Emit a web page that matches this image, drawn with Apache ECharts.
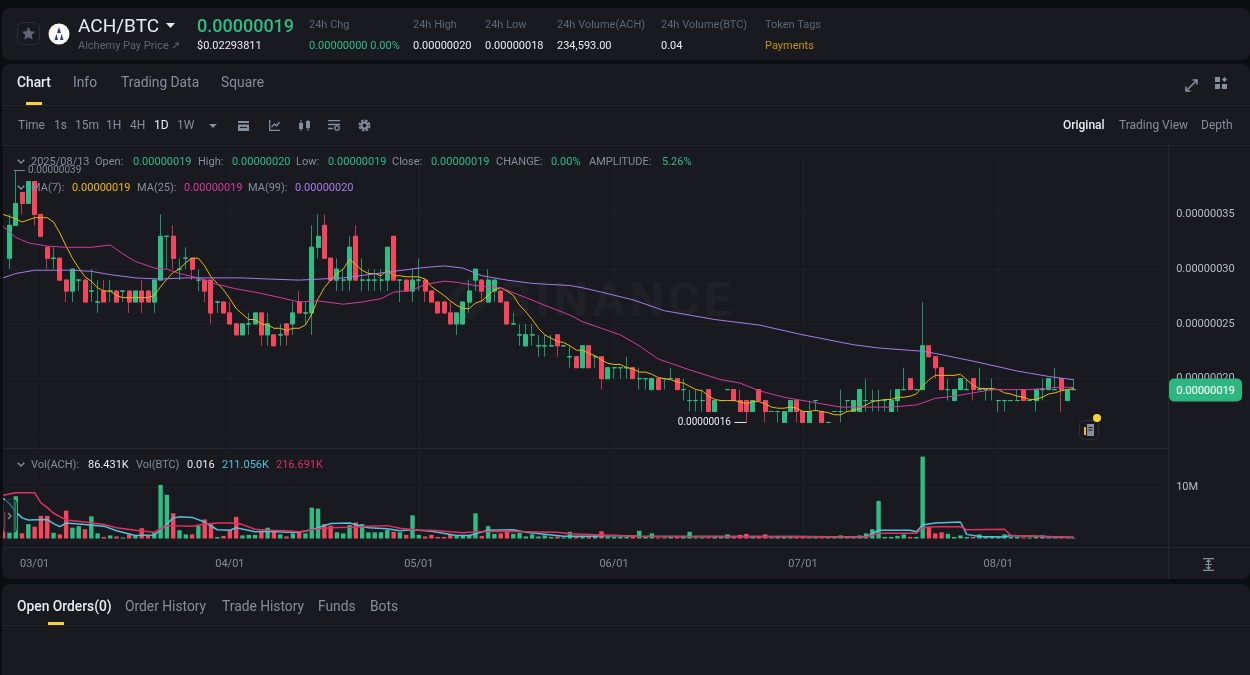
<!DOCTYPE html>
<html>
<head>
<meta charset="utf-8">
<script src="https://cdn.jsdelivr.net/npm/echarts@6/dist/echarts.min.js"></script>
<style>
html,body{margin:0;padding:0;background:#0b0e11;width:1250px;height:675px;overflow:hidden;font-family:Roboto,sans-serif}
.panel{position:absolute;background:#181a20;border-radius:8px}
.line{position:absolute;background:#24272e}
.t{position:absolute;white-space:nowrap;transform:translateY(-50%);font-size:11px;color:#848e9c;z-index:3}
.w{color:#eaecef}.g{color:#2ebd85}.d{color:#5e6673}
.tab{font-size:13.8px}.bar{font-size:12px}
#chart{position:absolute;left:0;top:0;width:1250px;height:675px;z-index:2}
svg{position:absolute;z-index:3}
</style>
</head>
<body>
<div class="panel" style="left:2px;top:8px;width:1248px;height:52px"></div>
<div class="panel" style="left:2px;top:64px;width:1248px;height:515px"></div>
<div class="panel" style="left:2px;top:584px;width:1248px;height:100px"></div>
<div class="line" style="left:2px;top:105px;width:1248px;height:1px"></div>
<div class="line" style="left:2px;top:145px;width:1248px;height:1px"></div>
<div class="line" style="left:2px;top:448px;width:1166px;height:1px"></div>
<div class="line" style="left:2px;top:547px;width:1248px;height:1px"></div>
<div class="line" style="left:1168px;top:146px;width:1px;height:433px"></div>
<div class="line" style="left:2px;top:625px;width:1248px;height:1px"></div>

<!-- watermark -->
<svg style="left:440px;top:270px;z-index:1" width="300" height="56">
  <g fill="none" stroke="#1f2127" stroke-width="7">
    <path d="M12 28 L30 10 L48 28 L30 46 Z"/>
  </g>
  <text x="60" y="46" font-family="Roboto" font-weight="700" font-size="49" letter-spacing="4" fill="#1f2127">BINANCE</text>
</svg>

<!-- header -->
<svg style="left:17px;top:22px" width="23" height="23"><rect x=".5" y=".5" width="22" height="22" rx="5" fill="none" stroke="#2b3139"/><path d="M11.5 5l2 4.2 4.5.6-3.3 3.1.9 4.6-4.1-2.3-4.1 2.3.9-4.6-3.3-3.1 4.5-.6z" fill="#5e6673"/></svg>
<svg style="left:48px;top:23px" width="22" height="22"><circle cx="11" cy="11" r="10.5" fill="#fff"/><path d="M11 4l2 6h-4zM8.5 11l-2 6h3.5zM13.5 11l2 6h-3.5z" fill="#2a3a8c"/></svg>
<span class="t w" style="left:78px;top:25px;font-size:19px">ACH/BTC</span>
<svg style="left:166px;top:23px" width="9" height="5"><path d="M0 0h9L4.5 5z" fill="#eaecef"/></svg>
<span class="t g" style="left:197px;top:25px;font-size:18px;font-weight:500">0.00000019</span>
<span class="t d" style="left:78px;top:45px">Alchemy Pay Price ↗</span>
<span class="t w" style="left:197px;top:45px">$0.02293811</span>
<span class="t d" style="left:309px;top:24px">24h Chg</span>
<span class="t g" style="left:309px;top:45px">0.00000000 0.00%</span>
<span class="t d" style="left:413px;top:24px">24h High</span>
<span class="t w" style="left:413px;top:45px">0.00000020</span>
<span class="t d" style="left:485px;top:24px">24h Low</span>
<span class="t w" style="left:485px;top:45px">0.00000018</span>
<span class="t d" style="left:557px;top:24px">24h Volume(ACH)</span>
<span class="t w" style="left:557px;top:45px">234,593.00</span>
<span class="t d" style="left:661px;top:24px">24h Volume(BTC)</span>
<span class="t w" style="left:661px;top:45px">0.04</span>
<span class="t d" style="left:765px;top:24px">Token Tags</span>
<span class="t" style="left:765px;top:45px;color:#c99400">Payments</span>

<!-- tabs -->
<span class="t w tab" style="left:17px;top:82px;font-weight:500">Chart</span>
<span class="t tab" style="left:73px;top:82px">Info</span>
<span class="t tab" style="left:121px;top:82px">Trading Data</span>
<span class="t tab" style="left:221px;top:82px">Square</span>
<div style="position:absolute;left:26px;top:102px;width:16px;height:3px;background:#fcd535;z-index:3"></div>
<svg style="left:1185px;top:79px" width="13" height="13"><path d="M1 12L12 1M7.5 1H12V5.5M1 7.5V12H5.5" fill="none" stroke="#848e9c" stroke-width="1.6"/></svg>
<svg style="left:1215px;top:77px" width="13" height="13"><path d="M0 0h5v5H0zM0 7h5v5H0zM7 7h5v5H7zM9.5 0l2.5 2.5-2.5 2.5L7 2.5z" fill="#848e9c"/></svg>

<!-- toolbar -->
<span class="t bar" style="left:18px;top:125px">Time</span>
<span class="t bar" style="left:54px;top:125px">1s</span>
<span class="t bar" style="left:75px;top:125px">15m</span>
<span class="t bar" style="left:106px;top:125px">1H</span>
<span class="t bar" style="left:130px;top:125px">4H</span>
<span class="t bar w" style="left:154px;top:125px">1D</span>
<span class="t bar" style="left:177px;top:125px">1W</span>
<svg style="left:209px;top:124px" width="8" height="4"><path d="M0 0h8L4 4z" fill="#848e9c"/></svg>
<svg style="left:238px;top:120px" width="11" height="11"><path d="M0 1h11v2H0zM0 4.5h11V11H0z" fill="#848e9c"/><path d="M2 7h7v1H2z" fill="#181a20"/></svg>
<svg style="left:269px;top:120px" width="11" height="11"><path d="M.7 0v10.3H11M2.5 7l3-3 2 2 3-4" fill="none" stroke="#848e9c" stroke-width="1.3"/></svg>
<svg style="left:298px;top:120px" width="13" height="11"><path d="M1 3h4v6H1zM8 1h4v7H8z" fill="#848e9c"/><path d="M3 0v11M10 0v11" stroke="#848e9c"/></svg>
<svg style="left:328px;top:120px" width="13" height="11"><path d="M0 .7h12M0 4.5h12M0 8.5h5" stroke="#848e9c" stroke-width="1.3"/><circle cx="9" cy="8" r="2.2" fill="none" stroke="#848e9c" stroke-width="1.3"/></svg>
<svg style="left:358px;top:119px" width="13" height="13"><circle cx="6.5" cy="6.5" r="5" fill="none" stroke="#848e9c" stroke-width="2" stroke-dasharray="2.6 1.3"/><circle cx="6.5" cy="6.5" r="3" fill="none" stroke="#848e9c" stroke-width="2"/></svg>
<span class="t bar w" style="left:1063px;top:125px;font-weight:500">Original</span>
<span class="t bar" style="left:1119px;top:125px">Trading View</span>
<span class="t bar" style="left:1201px;top:125px">Depth</span>

<!-- legends -->
<svg style="left:17px;top:159px" width="8" height="5"><path d="M.7.7L4 4l3.3-3.3" fill="none" stroke="#848e9c" stroke-width="1.4"/></svg>
<span class="t" style="left:31px;top:161px">2025/08/13</span>
<span class="t" style="left:95px;top:161px">Open:</span><span class="t g" style="left:133px;top:161px">0.00000019</span>
<span class="t" style="left:198px;top:161px">High:</span><span class="t g" style="left:232px;top:161px">0.00000020</span>
<span class="t" style="left:296px;top:161px">Low:</span><span class="t g" style="left:328px;top:161px">0.00000019</span>
<span class="t" style="left:392px;top:161px">Close:</span><span class="t g" style="left:431px;top:161px">0.00000019</span>
<span class="t" style="left:496px;top:161px">CHANGE:</span><span class="t g" style="left:551px;top:161px">0.00%</span>
<span class="t" style="left:589px;top:161px">AMPLITUDE:</span><span class="t g" style="left:662px;top:161px">5.26%</span>
<svg style="left:17px;top:185px" width="8" height="5"><path d="M.7.7L4 4l3.3-3.3" fill="none" stroke="#848e9c" stroke-width="1.4"/></svg>
<span class="t" style="left:31px;top:187px">MA(7):</span><span class="t" style="left:72px;top:187px;color:#f0b90b">0.00000019</span>
<span class="t" style="left:137px;top:187px">MA(25):</span><span class="t" style="left:184px;top:187px;color:#d63ba0">0.00000019</span>
<span class="t" style="left:248px;top:187px">MA(99):</span><span class="t" style="left:295px;top:187px;color:#a97bea">0.00000020</span>
<svg style="left:17px;top:462px" width="8" height="5"><path d="M.7.7L4 4l3.3-3.3" fill="none" stroke="#848e9c" stroke-width="1.4"/></svg>
<span class="t" style="left:31px;top:464px">Vol(ACH):</span><span class="t w" style="left:88px;top:464px">86.431K</span>
<span class="t" style="left:136px;top:464px">Vol(BTC)</span><span class="t w" style="left:187px;top:464px">0.016</span>
<span class="t" style="left:222px;top:464px;color:#4fc3dc">211.056K</span>
<span class="t" style="left:276px;top:464px;color:#d8325e">216.691K</span>

<!-- last price tag and note button -->
<div class="t" style="left:1169px;top:390px;width:73px;height:23px;line-height:23px;background:#2db680;border-radius:5px;color:#fff;text-align:center">0.00000019</div>
<svg style="left:1075px;top:412px" width="28" height="28"><rect x="4.5" y="8.5" width="19" height="19" rx="5" fill="#181a20" stroke="#2b3139"/><rect x="12" y="12" width="7" height="12" fill="#848e9c"/><path d="M9 15h2v8H9z" fill="#f0b90b"/><path d="M13.5 15.5h4M13.5 18h4" stroke="#181a20"/><circle cx="22" cy="6" r="4" fill="#fcd535"/></svg>
<svg style="left:2px;top:499px" width="16" height="35"><rect x="1.5" y=".5" width="13" height="33" rx="4" fill="#181a20" fill-opacity=".5" stroke="#2b3139"/><path d="M6 14l3 3-3 3" fill="none" stroke="#848e9c" stroke-width="1.3"/></svg>
<svg style="left:1202px;top:558px" width="13" height="13"><path d="M1 .7h11M1 12.3h11M3 6.5h7M6.5 2v9M4.5 4l2-2 2 2M4.5 9l2 2 2-2" fill="none" stroke="#848e9c" stroke-width="1.2"/></svg>

<!-- bottom tabs -->
<span class="t w tab" style="left:17px;top:606px;font-weight:500">Open Orders(0)</span>
<span class="t tab" style="left:125px;top:606px">Order History</span>
<span class="t tab" style="left:222px;top:606px">Trade History</span>
<span class="t tab" style="left:318px;top:606px">Funds</span>
<span class="t tab" style="left:370px;top:606px">Bots</span>
<div style="position:absolute;left:48px;top:622px;width:16px;height:3px;background:#fcd535;z-index:3"></div>

<div id="chart"></div>
<div style="position:absolute;left:0;top:146px;width:3px;height:402px;background:#0b0e11;z-index:3"></div>

<script>
// daily candles, prices in units of 0.00000001; one slot before 02/25 is cut by the panel edge
var days = ['02/24','02/25','02/26','02/27','02/28',
'03/01','03/02','03/03','03/04','03/05','03/06','03/07','03/08','03/09','03/10','03/11','03/12','03/13','03/14','03/15','03/16','03/17','03/18','03/19','03/20','03/21','03/22','03/23','03/24','03/25','03/26','03/27','03/28','03/29','03/30','03/31',
'04/01','04/02','04/03','04/04','04/05','04/06','04/07','04/08','04/09','04/10','04/11','04/12','04/13','04/14','04/15','04/16','04/17','04/18','04/19','04/20','04/21','04/22','04/23','04/24','04/25','04/26','04/27','04/28','04/29','04/30',
'05/01','05/02','05/03','05/04','05/05','05/06','05/07','05/08','05/09','05/10','05/11','05/12','05/13','05/14','05/15','05/16','05/17','05/18','05/19','05/20','05/21','05/22','05/23','05/24','05/25','05/26','05/27','05/28','05/29','05/30','05/31',
'06/01','06/02','06/03','06/04','06/05','06/06','06/07','06/08','06/09','06/10','06/11','06/12','06/13','06/14','06/15','06/16','06/17','06/18','06/19','06/20','06/21','06/22','06/23','06/24','06/25','06/26','06/27','06/28','06/29','06/30',
'07/01','07/02','07/03','07/04','07/05','07/06','07/07','07/08','07/09','07/10','07/11','07/12','07/13','07/14','07/15','07/16','07/17','07/18','07/19','07/20','07/21','07/22','07/23','07/24','07/25','07/26','07/27','07/28','07/29','07/30','07/31',
'08/01','08/02','08/03','08/04','08/05','08/06','08/07','08/08','08/09','08/10','08/11','08/12','08/13','08/14','08/15','08/16','08/17','08/18','08/19','08/20','08/21','08/22','08/23','08/24','08/25','08/26','08/27'];

var opens = [null,
31,34,37,36,38,35,32,31,31,29,28,29,29,28,27,28,28,28,28,28,
27,28,28,27,29,33,33,30,31,31,29,29,29,27,27,26,25,24,25,25,
26,24,24,24,25,25,27,26,26,32,34,31,29,29,29,33,29,29,29,29,
29,33,29,29,28,29,29,28,27,27,26,25,25,27,29,29,27,28,28,27,
25,24,23,24,23,23,23,24,23,22,22,21,23,22,22,20,21,21,21,21,
20,20,19,20,20,20,20,19,18,18,18,19,17,18,19,19,18,18,17,19,
18,17,17,16,17,18,17,16,18,17,16,17,17,18,17,17,18,18,18,18,
17,18,19,20,19,19,23,22,21,19,18,19,19,20,19,19,19,18,18,18,
18,19,18,18,19,19,19,20,18,19];
var closes = [null,
34,36,36,38,35,33,31,31,29,28,30,29,27,28,27,27,28,27,28,27,
28,27,27,29,33,33,31,30,31,30,29,28,26,27,26,25,24,25,25,26,
24,25,23,24,24,26,26,26,32,33,31,29,30,29,32,29,29,29,29,29,
32,29,29,28,29,29,28,27,26,26,25,26,27,28,30,28,29,29,27,25,
25,24,24,24,23,23,23,23,23,22,21,23,21,22,20,21,21,21,21,20,
20,20,20,19,20,20,19,19,18,18,18,17,18,18,19,18,17,17,18,18,
17,17,17,17,18,17,16,17,18,16,16,17,17,18,18,19,18,18,18,18,
18,19,19,19,19,23,22,21,19,19,19,20,19,19,19,19,19,18,18,18,
18,18,18,19,19,20,19,19,19,19];
var lows = [null,
30,34,35,36,34,33,30,30,29,27,27,28,27,27,26,27,27,27,27,26,
27,26,27,26,29,30,30,29,30,29,28,27,25,26,26,25,24,24,24,25,
23,23,23,23,23,24,26,25,24,31,31,29,28,28,28,29,28,28,28,28,
28,29,27,28,27,28,27,27,26,26,25,24,25,26,28,27,27,27,27,25,
25,23,23,23,22,22,23,22,23,21,21,21,21,21,19,20,20,20,20,20,
19,19,19,19,19,20,19,18,17,17,17,17,17,18,19,18,17,16,17,18,
16,17,16,16,17,16,16,16,17,16,16,17,16,17,17,17,17,17,17,17,
17,17,19,19,19,19,22,20,19,18,18,19,19,18,19,18,18,17,17,18,
18,18,18,17,18,19,19,17,18,19];
var highs = [null,
35,39,37,38,38,35,32,32,31,29,30,29,29,30,29,29,29,28,28,28,
28,29,28,29,35,33,34,31,32,31,30,29,29,27,27,27,25,25,26,26,
26,26,24,25,25,27,28,27,34,35,35,31,31,30,33,34,31,30,30,30,
32,33,29,29,30,31,29,28,27,27,27,26,27,29,30,29,30,29,28,27,
26,25,25,25,24,24,24,24,23,23,22,23,23,22,22,21,21,21,22,21,
21,20,20,20,20,21,20,20,19,19,19,19,18,18,19,19,19,18,18,19,
18,17,17,17,18,18,17,18,18,17,16,17,19,18,18,19,20,19,19,18,
19,19,21,20,19,27,23,22,21,20,19,20,20,20,21,19,20,18,18,18,
19,19,18,19,20,20,21,20,19,20];

var ma7 = [35.0,
34.8,34.6,34.3,34.5,34.7,34.7,34.7,34.3,33.3,32.1,31.0,30.1,29.3,28.9,28.3,28.0,28.0,27.6,27.4,27.4,
27.4,27.4,27.4,27.6,28.4,29.1,29.7,30.0,30.6,31.0,31.0,30.3,29.3,28.7,28.1,27.3,26.4,25.9,25.4,25.4,
25.0,24.9,24.6,24.6,24.4,24.6,24.6,24.9,25.9,27.3,28.3,29.0,29.6,30.0,30.9,30.4,29.9,29.6,29.6,29.4,
29.9,29.4,29.4,29.3,29.3,29.3,29.1,28.4,28.0,27.6,27.1,26.7,26.4,26.4,26.9,27.1,27.6,28.1,28.3,28.0,
27.6,26.7,26.1,25.4,24.6,24.0,23.7,23.4,23.3,23.0,22.6,22.6,22.3,22.1,21.7,21.4,21.3,21.3,21.0,20.9,
20.6,20.6,20.4,20.1,20.0,19.9,19.7,19.6,19.3,19.0,18.9,18.4,18.1,18.0,18.0,18.0,17.9,17.7,17.9,17.9,
17.7,17.4,17.3,17.3,17.4,17.3,17.0,17.0,17.1,17.0,16.9,16.7,16.7,17.0,17.1,17.3,17.6,17.9,18.0,18.1,
18.1,18.3,18.3,18.4,18.6,19.3,19.9,20.3,20.3,20.3,20.3,20.4,19.9,19.4,19.1,19.1,19.1,19.0,18.7,18.6,
18.4,18.3,18.1,18.1,18.3,18.6,18.7,18.9,19.0,19.1];

// the slower lines are read at these candle numbers (0 is 02/25)
var ma25At = [-1,1,3,6,9,13,16,18,20,23,25,27,30,33,36,39,43,46,49,53,56,59,61,64,66,69,71,74,78,82,85,89,91,94,97,100,103,108,113,116,119,123,127,132,136,140,144,147,150,153,156,162,166,169];
var ma25 = [33.9,32.9,32.4,32.1,32.0,32.0,32.2,31.4,30.7,30.1,30.0,29.6,29.2,28.6,28.2,27.9,27.4,27.0,27.1,26.8,27.0,27.3,27.9,28.1,28.6,28.9,28.8,28.5,28.3,27.4,26.7,25.8,25.2,24.6,24.0,23.0,21.8,20.8,19.9,19.6,18.9,18.3,17.9,17.4,17.4,17.4,17.6,18.2,18.4,18.7,19.0,19.0,19.2,19.2];
var ma99At = [-1,1,4,7,10,13,16,20,24,28,33,37,41,46,53,57,61,65,69,72,75,79,83,89,91,94,99,104,112,119,126,134,138,145,147,153,160,165,169];
var ma99 = [29.2,29.6,29.9,29.9,29.9,29.8,29.5,29.2,29.1,29.2,29.2,29.2,29.1,29.0,29.2,29.5,29.8,30.1,30.3,30.1,29.4,29.0,28.7,28.5,28.3,27.9,27.2,26.2,25.4,24.9,24.0,23.1,22.8,22.5,22.3,21.6,20.7,20.2,19.9];

// volume in millions of ACH
var volumes = [5.2,
1.3,8.2,1.0,2.8,2.3,4.4,4.4,1.1,0.8,5.4,2.1,2.4,1.8,4.3,1.0,0.3,0.6,0.4,0.2,0.8,
0.6,2.0,0.6,1.1,10.4,8.5,4.9,1.6,0.8,0.8,2.5,3.7,2.8,0.3,0.5,1.6,4.2,0.6,0.7,0.7,
1.5,2.1,1.4,0.8,0.4,1.0,1.2,1.0,6.0,5.8,2.8,2.5,1.2,1.0,2.6,3.1,2.8,1.2,1.2,1.2,
1.7,1.3,1.2,0.7,4.5,0.7,0.4,0.7,0.3,0.3,0.8,0.5,0.5,0.7,4.9,0.5,2.4,0.9,1.0,1.4,
0.9,1.1,0.4,0.8,0.4,0.6,0.3,0.4,0.2,1.3,0.3,0.5,0.3,0.5,1.4,0.4,0.3,0.3,0.3,0.3,
1.5,0.4,1.0,0.2,0.2,0.4,0.4,0.4,1.3,0.2,0.2,0.2,0.3,0.3,0.8,0.4,0.7,0.9,0.4,0.3,
0.8,0.2,0.3,0.3,0.3,0.5,0.3,0.2,0.2,0.2,0.2,0.2,0.6,0.2,0.2,0.6,1.0,1.8,7.3,0.3,
0.3,0.5,0.8,0.3,0.3,15.9,2.3,1.0,1.2,0.9,0.3,0.6,0.3,0.3,0.8,0.3,0.3,0.3,0.8,0.3,
0.3,0.2,0.2,0.3,0.6,0.2,0.2,0.2,0.2,0.09];
var volCyanAt = [-1,0,1,2,3,6,7,8,9,11,15,17,20,23,24,26,27,29,31,33,35,36,39,41,44,46,48,51,54,57,60,62,64,67,71,73,76,80,82,88,92,96,100,108,125,136,138,143,144,145,147,151,152,154,158,159,169];
var volCyan = [7.8,6.8,5.2,4.0,3.6,3.7,2.9,2.3,3.0,2.8,2.4,1.5,0.6,0.7,1.6,4.0,4.2,4.1,3.2,1.7,1.6,2.1,1.3,1.4,1.2,1.2,1.7,2.9,3.0,2.1,1.9,1.5,1.7,1.4,0.6,0.6,1.6,1.7,1.2,0.45,0.45,0.6,0.45,0.4,0.4,0.3,1.6,1.6,1.3,2.6,3.0,3.2,0.8,0.4,0.3,0.6,0.21];
var volRedAt = [-1,1,4,5,6,7,9,12,15,17,20,23,24,25,29,31,33,36,37,39,41,44,46,48,51,54,57,60,62,65,67,72,74,78,87,89,94,100,125,136,138,144,145,147,151,152,158,159,169];
var volRed = [8.4,8.9,8.9,6.9,6.0,4.9,3.6,3.2,2.7,2.1,1.6,1.2,1.9,2.5,2.4,2.8,3.0,3.0,2.7,1.8,1.6,1.5,1.3,1.7,2.1,2.2,2.4,2.5,2.0,1.6,1.6,1.1,1.3,1.4,1.2,0.9,0.7,0.45,0.35,0.3,1.0,1.0,2.1,2.3,2.3,1.7,1.8,0.6,0.22];

var priceTicks = [20, 25, 30, 35];
var volumeTicks = [10];
var highLabel = '0.00000039';
var lowLabel = '0.00000016';

var UP = '#2ebd85', DOWN = '#f6465d', UP_WICK = '#23916a', DOWN_WICK = '#b93a4e', GRID = '#1e2026', TEXT = '#b7bdc6';

// [position, value] pairs for the sampled lines, shifted by the slot before 02/25
function pairs(at, vals) {
    return at.map(function (n, i) { return [n + 1, vals[i]]; });
}

var candles = opens.map(function (o, i) { return [o, closes[i], lows[i], highs[i]]; });
// bodies are drawn again over the dimmer wicks
var bodies = opens.map(function (o, i) {
    return [o, closes[i], Math.min(o, closes[i]), Math.max(o, closes[i])];
});
var volumeBars = volumes.map(function (v, i) {
    var down = opens[i] === null || closes[i] < opens[i];
    return { value: v, itemStyle: { color: down ? DOWN : UP } };
});
function isFirstOfMonth(i, v) { return v.slice(3) === '01'; }

var myChart = echarts.init(document.getElementById('chart'), null, { renderer: 'canvas' });
var band = 6.307, slots = days.length;

myChart.setOption({
    animation: false,
    backgroundColor: 'transparent',
    grid: [
        { left: 7.8 - 1.5 * band, top: 159.65, width: slots * band, height: 273.75, containLabel: false },
        { left: 7.8 - 1.5 * band, top: 435.5, width: slots * band, height: 103, containLabel: false }
    ],
    xAxis: [
        {
            type: 'category', gridIndex: 0, data: days, boundaryGap: true,
            axisLine: { show: false }, axisTick: { show: false }, axisLabel: { show: false },
            splitLine: { show: true, interval: isFirstOfMonth, alignWithLabel: true, lineStyle: { color: GRID } }
        },
        {
            type: 'category', gridIndex: 1, data: days, boundaryGap: true,
            axisLine: { show: false }, axisTick: { show: false },
            axisLabel: { interval: isFirstOfMonth, margin: 20, color: '#848e9c', fontSize: 11, fontFamily: 'Roboto' },
            splitLine: { show: true, interval: isFirstOfMonth, alignWithLabel: true, lineStyle: { color: GRID } }
        }
    ],
    yAxis: [
        {
            type: 'value', gridIndex: 0, position: 'right', min: 15, max: 40, interval: 5,
            axisLine: { show: false }, axisTick: { show: false },
            axisLabel: {
                margin: 11, color: TEXT, fontSize: 11, fontFamily: 'Roboto',
                formatter: function (v) { return priceTicks.indexOf(v) < 0 ? '' : (v / 1e8).toFixed(8); }
            },
            splitLine: { showMinLine: false, showMaxLine: false, lineStyle: { color: GRID } }
        },
        {
            type: 'value', gridIndex: 1, position: 'right', min: 0, max: 20, interval: 10,
            axisLine: { show: false }, axisTick: { show: false },
            axisLabel: {
                margin: 11, color: TEXT, fontSize: 11, fontFamily: 'Roboto',
                formatter: function (v) { return volumeTicks.indexOf(v) < 0 ? '' : v + 'M'; }
            },
            splitLine: { showMinLine: false, showMaxLine: false, lineStyle: { color: GRID } }
        }
    ],
    series: [
        {
            name: 'ACH/BTC', type: 'candlestick', xAxisIndex: 0, yAxisIndex: 0, data: candles, barWidth: 4.5,
            itemStyle: { color: UP, color0: DOWN, borderColor: UP_WICK, borderColor0: DOWN_WICK, borderColorDoji: UP_WICK, borderWidth: 1 },
            markPoint: {
                symbol: 'circle', symbolSize: 0, animation: false,
                data: [
                    {
                        coord: ['02/26', 39],
                        label: {
                            position: 'right', distance: 0, offset: [-2, 0],
                            formatter: '{l|} {t|' + highLabel + '}',
                            rich: { l: { width: 11, height: 1, backgroundColor: '#848e9c' }, t: { color: '#848e9c', fontSize: 10, fontFamily: 'Roboto' } }
                        }
                    },
                    {
                        coord: ['06/22', 16],
                        label: {
                            position: 'left', distance: 0,
                            formatter: '{t|' + lowLabel + '} {l|}',
                            rich: { l: { width: 12, height: 1, backgroundColor: '#eaecef' }, t: { color: '#eaecef', fontSize: 10, fontFamily: 'Roboto' } }
                        }
                    }
                ]
            }
        },
        {
            name: 'ACH/BTC body', type: 'candlestick', xAxisIndex: 0, yAxisIndex: 0, data: bodies, barWidth: 4.5,
            itemStyle: { color: UP, color0: DOWN, borderColor: UP, borderColor0: DOWN, borderColorDoji: UP, borderWidth: 1 }
        },
        { name: 'MA(7)', type: 'line', xAxisIndex: 0, yAxisIndex: 0, data: ma7, symbol: 'none', lineStyle: { width: 1, color: '#f0b90b' } },
        { name: 'MA(25)', type: 'line', xAxisIndex: 0, yAxisIndex: 0, data: pairs(ma25At, ma25), symbol: 'none', lineStyle: { width: 1, color: '#d63ba0' } },
        { name: 'MA(99)', type: 'line', xAxisIndex: 0, yAxisIndex: 0, data: pairs(ma99At, ma99), symbol: 'none', lineStyle: { width: 1, color: '#a97bea' } },
        { name: 'Vol(ACH)', type: 'bar', xAxisIndex: 1, yAxisIndex: 1, data: volumeBars, barWidth: 4.4 },
        { name: 'Vol MA5', type: 'line', xAxisIndex: 1, yAxisIndex: 1, data: pairs(volCyanAt, volCyan), symbol: 'none', lineStyle: { width: 1.5, color: '#4fc3dc' } },
        { name: 'Vol MA10', type: 'line', xAxisIndex: 1, yAxisIndex: 1, data: pairs(volRedAt, volRed), symbol: 'none', lineStyle: { width: 1.5, color: '#e0315f' } }
    ]
});
</script>
</body>
</html>
